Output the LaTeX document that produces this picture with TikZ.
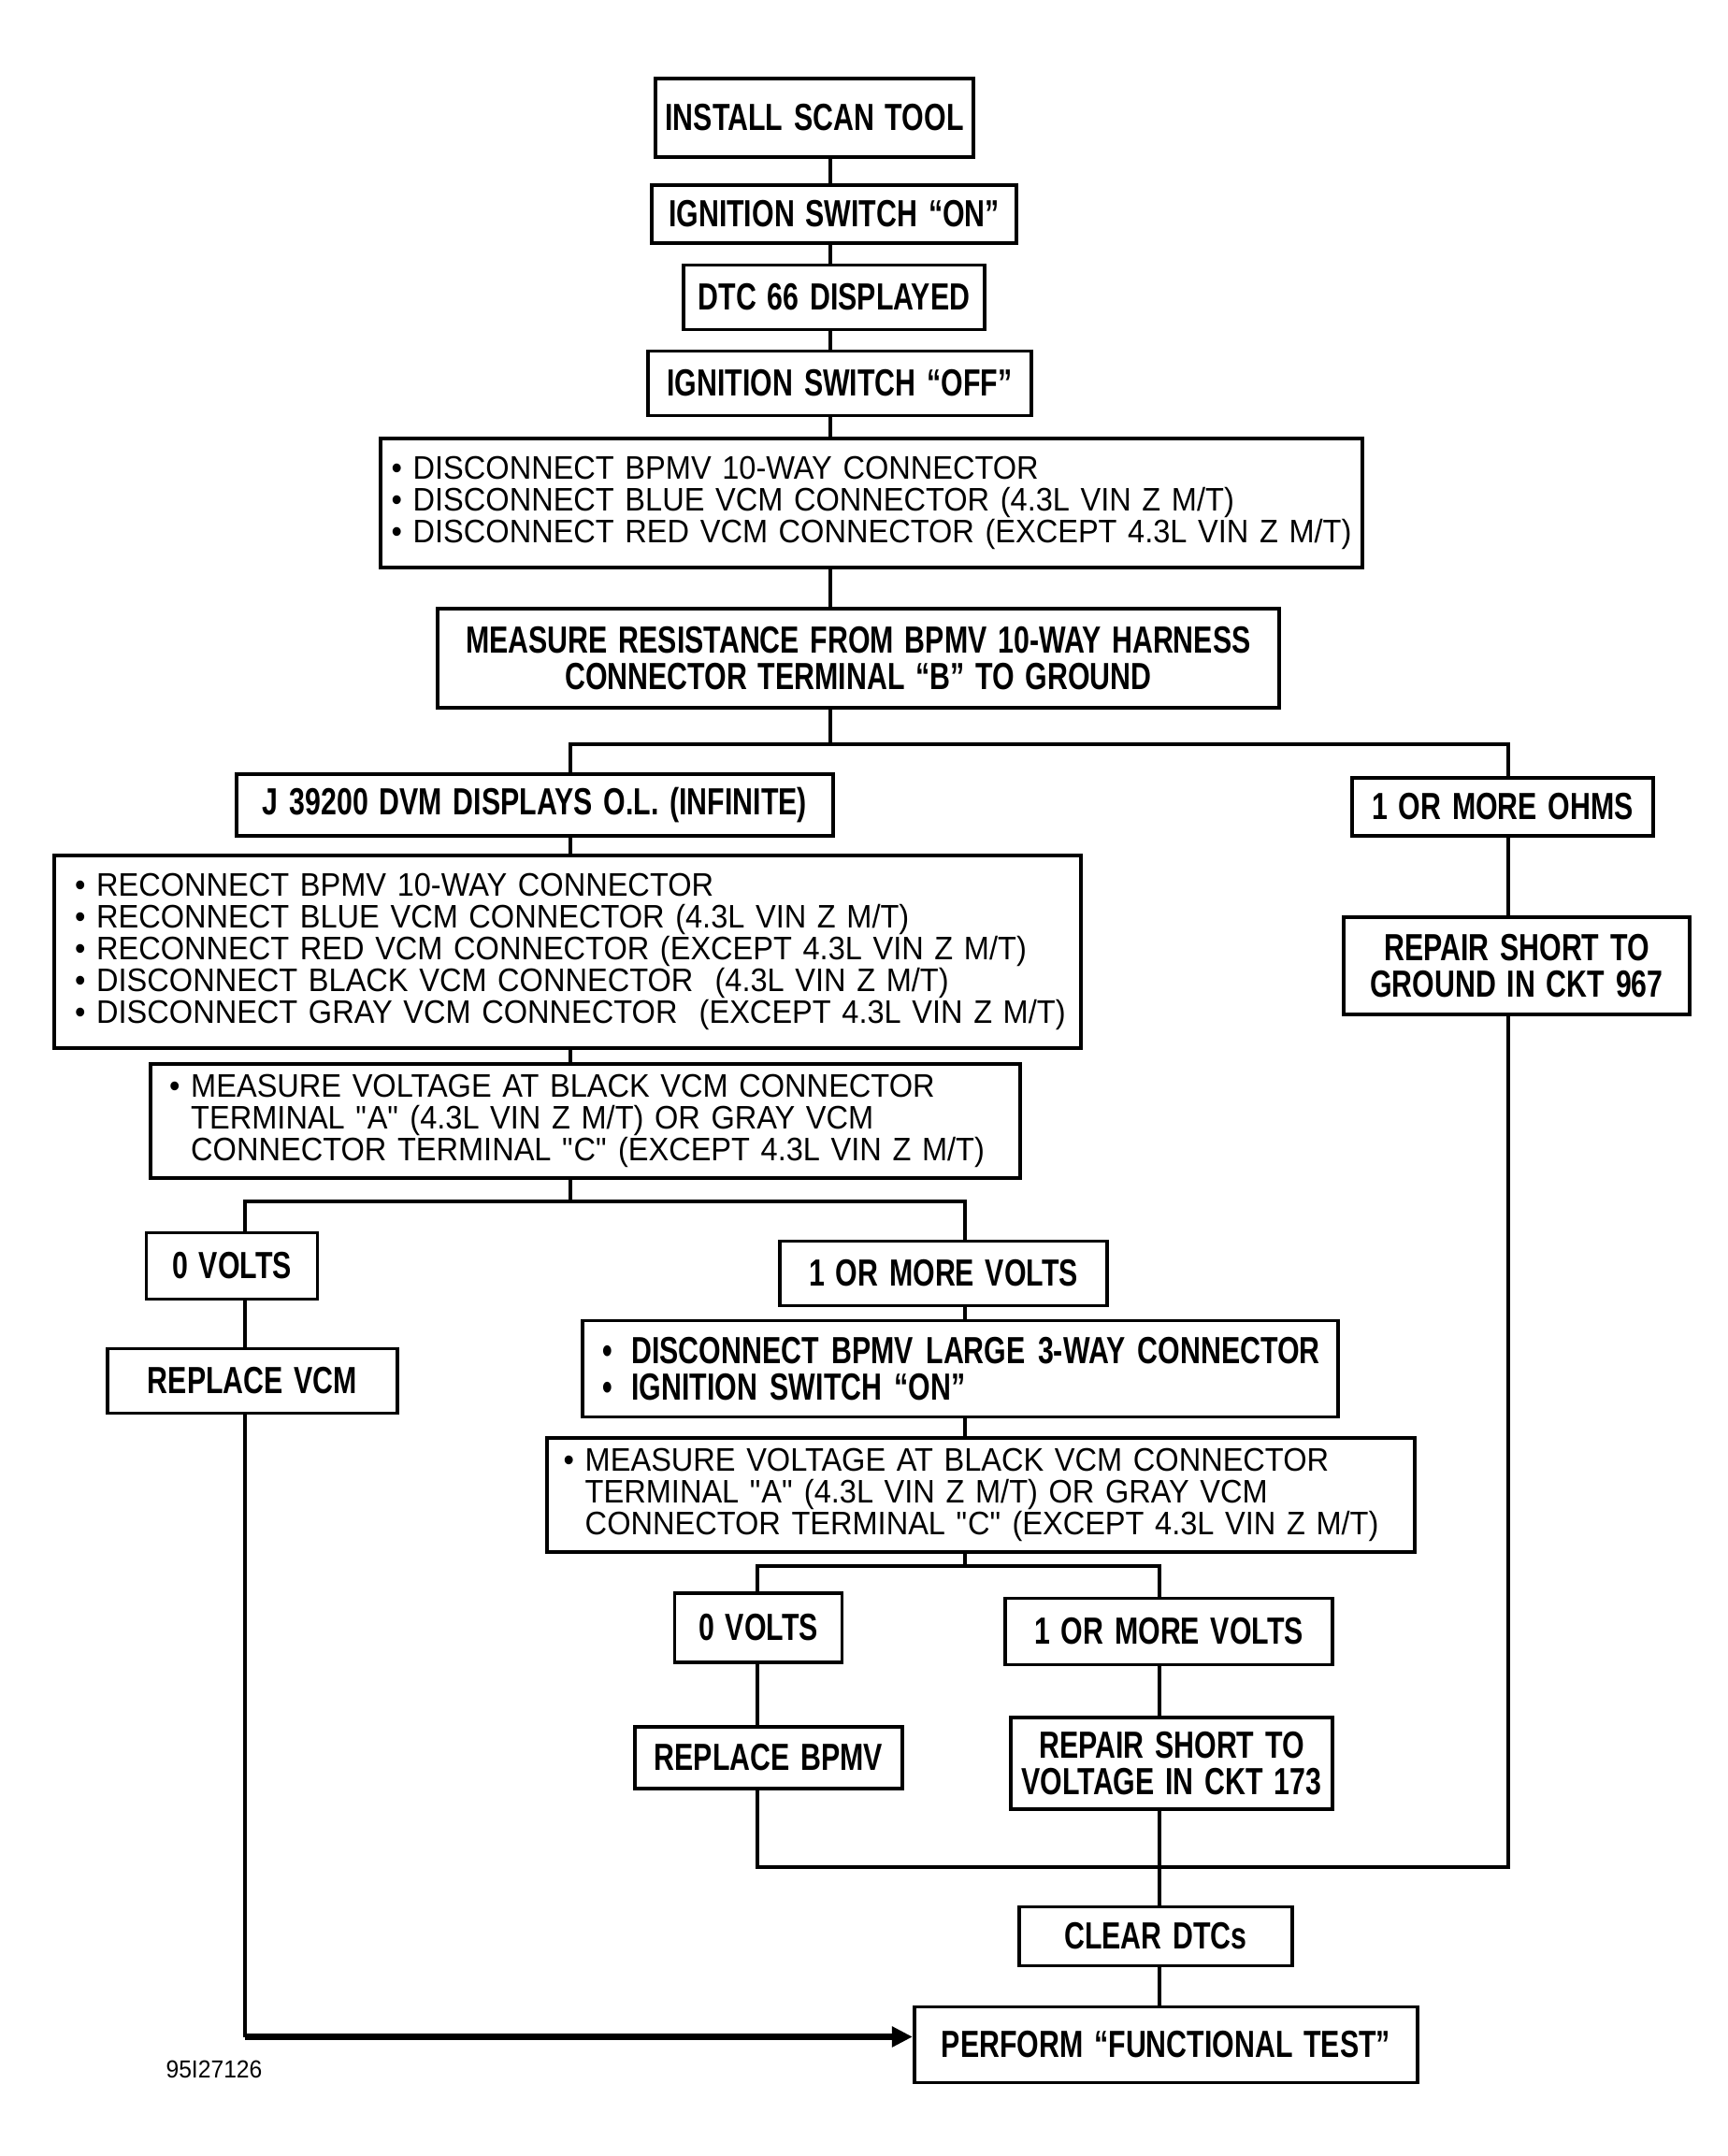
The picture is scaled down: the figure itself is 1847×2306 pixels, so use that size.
\documentclass[tikz,border=0pt]{standalone}
\usepackage{fontspec}
\setmainfont{Liberation Sans}[FakeStretch=0.935]
\newfontfamily\hdfont{Liberation Sans}[FakeStretch=0.75, WordSpace=1.4]
\usetikzlibrary{arrows.meta}

\begin{document}
\begin{tikzpicture}[x=0.01cm, y=-0.01cm,
    box/.style={draw, line width=1.1pt, inner sep=0pt, align=center, font=\hdfont\bfseries\fontsize{11.5}{11.3}\selectfont},
    listbox/.style={draw, line width=1.1pt, inner ysep=0pt, align=left, font=\fontsize{9.9}{9.7}\selectfont},
    link/.style={line width=1pt},
    flow/.style={line width=2pt, -{Triangle[length=0.22cm, width=0.21cm]}}]
    \useasboundingbox (0,0) rectangle (1847,2306);

    \node[box, minimum width=3.40cm, minimum height=0.84cm] (install) at (871,126) {INSTALL SCAN TOOL};
    \node[box, minimum width=3.89cm, minimum height=0.62cm] (ignon) at (892,229) {IGNITION SWITCH “ON”};
    \node[box, minimum width=3.22cm, minimum height=0.69cm] (dtc) at (892,318) {DTC 66 DISPLAYED};
    \node[box, minimum width=4.09cm, minimum height=0.69cm] (ignoff) at (898,410) {IGNITION SWITCH “OFF”};
    \node[listbox, inner xsep=0.12cm, text width=10.26cm, minimum height=1.38cm] (disc) at (932,538)
        {\mbox{• DISCONNECT BPMV 10-WAY CONNECTOR}\\
         \mbox{• DISCONNECT BLUE VCM CONNECTOR (4.3L VIN Z M/T)}\\
         \mbox{• DISCONNECT RED VCM CONNECTOR (EXCEPT 4.3L VIN Z M/T)}};
    \node[box, minimum width=8.99cm, minimum height=1.06cm] (resist) at (918,704)
        {MEASURE RESISTANCE FROM BPMV 10-WAY HARNESS\\ CONNECTOR TERMINAL “B” TO GROUND};

    \node[box, minimum width=6.37cm, minimum height=0.66cm] (j39) at (572,861) {J 39200 DVM DISPLAYS O.L. (INFINITE)};
    \node[box, minimum width=3.21cm, minimum height=0.62cm] (ohms) at (1607,863) {1 OR MORE OHMS};
    \node[listbox, inner xsep=0.22cm, text width=10.53cm, minimum height=2.06cm] (recon) at (607,1018)
        {\mbox{• RECONNECT BPMV 10-WAY CONNECTOR}\\
         \mbox{• RECONNECT BLUE VCM CONNECTOR (4.3L VIN Z M/T)}\\
         \mbox{• RECONNECT RED VCM CONNECTOR (EXCEPT 4.3L VIN Z M/T)}\\
         \mbox{• DISCONNECT BLACK VCM CONNECTOR\ \ (4.3L VIN Z M/T)}\\
         \mbox{• DISCONNECT GRAY VCM CONNECTOR\ \ (EXCEPT 4.3L VIN Z M/T)}};
    \node[box, minimum width=3.69cm, minimum height=1.04cm] (gnd) at (1622,1033) {REPAIR SHORT TO\\ GROUND IN CKT 967};
    \node[listbox, inner xsep=0.20cm, text width=8.89cm, minimum height=1.22cm] (mv1) at (626,1199)
        {\mbox{• MEASURE VOLTAGE AT BLACK VCM CONNECTOR}\\
         \mbox{\phantom{• }TERMINAL \textquotedbl A\textquotedbl{} (4.3L VIN Z M/T) OR GRAY VCM}\\
         \mbox{\phantom{• }CONNECTOR TERMINAL \textquotedbl C\textquotedbl{} (EXCEPT 4.3L VIN Z M/T)}};

    \node[box, minimum width=1.83cm, minimum height=0.71cm] (v0a) at (248,1354) {0 VOLTS};
    \node[box, minimum width=3.49cm, minimum height=0.69cm] (v1a) at (1009,1362) {1 OR MORE VOLTS};
    \node[box, minimum width=3.10cm, minimum height=0.69cm] (rvcm) at (270,1477) {REPLACE VCM};
    \node[box, align=left, inner xsep=0.22cm, text width=7.64cm, minimum height=1.03cm] (large) at (1027,1464)
        {\mbox{•\hspace{0.2cm}DISCONNECT BPMV LARGE 3-WAY CONNECTOR}\\
         \mbox{•\hspace{0.2cm}IGNITION SWITCH “ON”}};
    \node[listbox, inner xsep=0.18cm, text width=8.92cm, minimum height=1.22cm] (mv2) at (1049,1599)
        {\mbox{• MEASURE VOLTAGE AT BLACK VCM CONNECTOR}\\
         \mbox{\phantom{• }TERMINAL \textquotedbl A\textquotedbl{} (4.3L VIN Z M/T) OR GRAY VCM}\\
         \mbox{\phantom{• }CONNECTOR TERMINAL \textquotedbl C\textquotedbl{} (EXCEPT 4.3L VIN Z M/T)}};

    \node[box, minimum width=1.79cm, minimum height=0.74cm] (v0b) at (811,1741) {0 VOLTS};
    \node[box, minimum width=3.49cm, minimum height=0.71cm] (v1b) at (1250,1745) {1 OR MORE VOLTS};
    \node[box, minimum width=2.86cm, minimum height=0.66cm] (rbpmv) at (822,1880) {REPLACE BPMV};
    \node[box, minimum width=3.44cm, minimum height=0.98cm] (rvolt) at (1253,1886) {REPAIR SHORT TO\\ VOLTAGE IN CKT 173};
    \node[box, minimum width=2.92cm, minimum height=0.63cm] (clear) at (1236,2071) {CLEAR DTCs};
    \node[box, minimum width=5.38cm, minimum height=0.81cm] (perform) at (1247,2187) {PERFORM “FUNCTIONAL TEST”};
    \node[font=\fontsize{7.5}{8}\selectfont] (fig) at (229,2213) {95I27126};

    \coordinate (xt) at (888,0);
    \coordinate (xa) at (610,0);
    \coordinate (xr) at (1613,0);
    \coordinate (xb) at (262,0);
    \coordinate (xc) at (1032,0);
    \coordinate (xd) at (810,0);
    \coordinate (xe) at (1240,0);
    \coordinate (sa) at (888,796);
    \coordinate (sb) at (610,1285);
    \coordinate (sc) at (1032,1675);
    \coordinate (sd) at (1240,1997);
    \coordinate (ae) at ([yshift=0.085cm]perform.west);

    \foreach \a/\b in {install/ignon, ignon/dtc, dtc/ignoff, ignoff/disc, disc/resist}
        \draw[link] (\a.south -| xt) -- (\b.north -| xt);
    \draw[link] (resist.south -| xt) -- (sa);
    \draw[link] (j39.north -| xa) |- (sa) -| (ohms.north -| xr);

    \foreach \a/\b in {j39/recon, recon/mv1}
        \draw[link] (\a.south -| xa) -- (\b.north -| xa);
    \draw[link] (mv1.south -| xa) -- (sb);
    \draw[link] (v0a.north -| xb) |- (sb) -| (v1a.north -| xc);
    \draw[link] (v0a.south -| xb) -- (rvcm.north -| xb);
    \draw[link] (rvcm.south -| xb) -- (xb |- ae);
    \draw[flow] (xb |- ae) -- (ae);

    \foreach \a/\b in {v1a/large, large/mv2}
        \draw[link] (\a.south -| xc) -- (\b.north -| xc);
    \draw[link] (mv2.south -| xc) -- (sc);
    \draw[link] (v0b.north -| xd) |- (sc) -| (v1b.north -| xe);
    \draw[link] (v0b.south -| xd) -- (rbpmv.north -| xd);
    \draw[link] (v1b.south -| xe) -- (rvolt.north -| xe);

    \draw[link] (ohms.south -| xr) -- (gnd.north -| xr);
    \draw[link] (rbpmv.south -| xd) |- (sd) -| (gnd.south -| xr);
    \draw[link] (rvolt.south -| xe) -- (sd);
    \draw[link] (sd) -- (clear.north -| xe);
    \draw[link] (clear.south -| xe) -- (perform.north -| xe);
\end{tikzpicture}
\end{document}
